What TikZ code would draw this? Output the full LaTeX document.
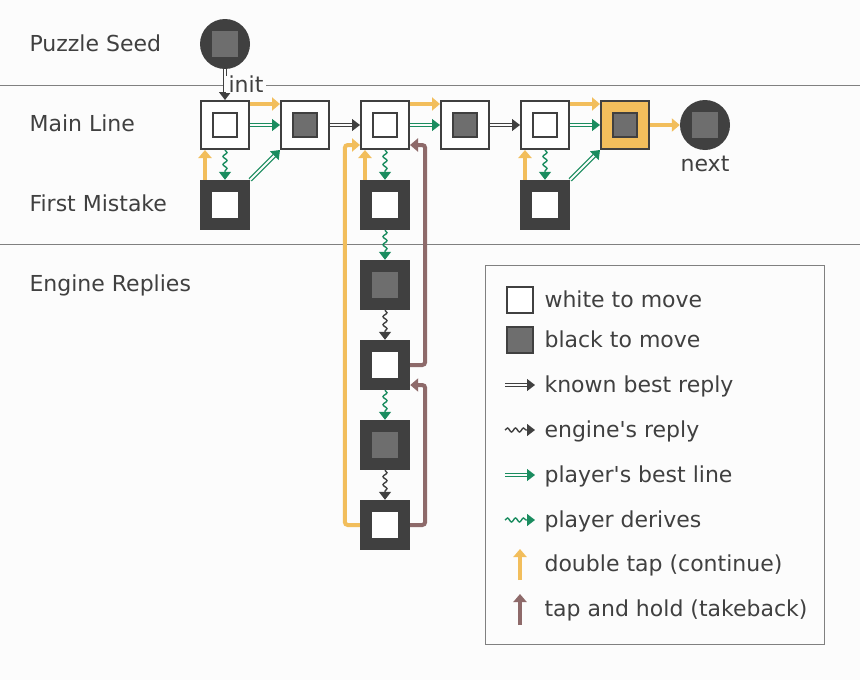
\documentclass[tikz,border=0pt]{standalone}
\usepackage{fontspec}
\setmainfont{DejaVu Sans}[Ligatures=TeXOff]
\usepackage{xcolor}
\usepackage{tikz}
\usetikzlibrary{arrows.meta,positioning,decorations.pathmorphing}

\definecolor{ink}{HTML}{404040}
\definecolor{piece}{HTML}{6E6E6E}
\definecolor{tapgold}{HTML}{F2BE5C}
\definecolor{lineg}{HTML}{1A8C5F}
\definecolor{holdbrown}{HTML}{8E6A6A}
\definecolor{rulegray}{HTML}{808080}
\definecolor{paper}{HTML}{FCFCFC}

\begin{document}
\begin{tikzpicture}[x=1pt,y=-1pt,>={Triangle[length=8pt,width=12pt]},node distance=80pt,on grid,
  every node/.style={font=\fontsize{22}{26}\selectfont,text=ink}]
\tikzset{wmove/.style={rectangle,minimum size=48pt,inner sep=0pt,line width=2pt,draw=ink,fill=white,
    path picture={\draw[ink,line width=2pt,fill=white] ([shift={(-12pt,-12pt)}]path picture bounding box.center) rectangle ++(24pt,24pt);}}}
\tikzset{bmove/.style={rectangle,minimum size=48pt,inner sep=0pt,line width=2pt,draw=ink,fill=white,
    path picture={\draw[ink,line width=2pt,fill=piece] ([shift={(-12pt,-12pt)}]path picture bounding box.center) rectangle ++(24pt,24pt);}}}
\tikzset{wdark/.style={rectangle,minimum size=50pt,inner sep=0pt,fill=ink,
    path picture={\fill[white] ([shift={(-13pt,-13pt)}]path picture bounding box.center) rectangle ++(26pt,26pt);}}}
\tikzset{bdark/.style={rectangle,minimum size=50pt,inner sep=0pt,fill=ink,
    path picture={\fill[piece] ([shift={(-13pt,-13pt)}]path picture bounding box.center) rectangle ++(26pt,26pt);}}}
\tikzset{seedpos/.style={circle,minimum size=50pt,inner sep=0pt,fill=ink,
    path picture={\fill[piece] ([shift={(-13pt,-13pt)}]path picture bounding box.center) rectangle ++(26pt,26pt);}}}
\tikzset{keysq/.style={rectangle,minimum size=26pt,inner sep=0pt,line width=2pt,draw=ink}}
\tikzset{bestreply/.style={->,draw=ink,double=paper,double distance=2pt,line width=1.2pt}}
\tikzset{playerline/.style={->,draw=lineg,double=paper,double distance=2pt,line width=1.2pt}}
\tikzset{enginereply/.style={->,draw=ink,line width=1.4pt,decorate,
    decoration={snake,amplitude=2pt,segment length=8pt,post length=8pt}}}
\tikzset{derives/.style={->,draw=lineg,line width=1.4pt,decorate,
    decoration={snake,amplitude=2pt,segment length=8pt,post length=8pt}}}
\tikzset{dbltap/.style={-{Triangle[length=8pt,width=13pt]},draw=tapgold,line width=4pt,rounded corners=3pt}}
\tikzset{tapheld/.style={-{Triangle[length=8pt,width=13pt]},draw=holdbrown,line width=4pt,rounded corners=3pt}}

\fill[paper] (0,0) rectangle (860,680);
\useasboundingbox (0,0) rectangle (860,680);
\draw[rulegray] (0,85) -- (860,85);
\draw[rulegray] (0,244) -- (860,244);

% rows
\node[anchor=base west] (rowseed)    at (26,51)  {Puzzle Seed};
\node[anchor=base west] (rowmain)    at (26,131) {Main Line};
\node[anchor=base west] (rowmistake) at (26,211) {First Mistake};
\node[anchor=base west] (rowengine)  at (26,291) {Engine Replies};

% positions
\node[seedpos]          (seed) at (225,44)  {};
\node[wmove]            (m1)   at (225,125) {};
\node[bmove]            (m2)   [right=of m1] {};
\node[wmove]            (m3)   [right=of m2] {};
\node[bmove]            (m4)   [right=of m3] {};
\node[wmove]            (m5)   [right=of m4] {};
\node[bmove,fill=tapgold] (m6) [right=of m5] {};
\node[seedpos]          (next) [right=of m6] {};
\node[anchor=base]      (nextlabel) at (705,171) {next};
\node[wdark]            (f1)   [below=of m1] {};
\node[wdark]            (f2)   [below=of m3] {};
\node[wdark]            (f3)   [below=of m5] {};
\node[bdark]            (e1)   [below=of f2] {};
\node[wdark]            (e2)   [below=of e1] {};
\node[bdark]            (e3)   [below=of e2] {};
\node[wdark]            (e4)   [below=of e3] {};

% main line
\draw[bestreply] (seed) -- (m1) node[midway,right,fill=paper,inner ysep=0pt,inner xsep=3pt] {init};
\draw[dbltap] ([yshift=21pt]m1.east) -- ([yshift=21pt]m2.west);
\draw[playerline] (m1) -- (m2);
\draw[bestreply] (m2) -- (m3);
\draw[dbltap] ([yshift=21pt]m3.east) -- ([yshift=21pt]m4.west);
\draw[playerline] (m3) -- (m4);
\draw[bestreply] (m4) -- (m5);
\draw[dbltap] ([yshift=21pt]m5.east) -- ([yshift=21pt]m6.west);
\draw[playerline] (m5) -- (m6);
\draw[dbltap] (m6) -- (next);

% mistakes
\draw[derives] (m1) -- (f1);
\draw[dbltap] ([xshift=-20pt]f1.north) -- ([xshift=-20pt]m1.south);
\draw[playerline] (f1.north east) -- (m2.south west);
\draw[derives] (m3) -- (f2);
\draw[dbltap] ([xshift=-20pt]f2.north) -- ([xshift=-20pt]m3.south);
\draw[derives] (m5) -- (f3);
\draw[dbltap] ([xshift=-20pt]f3.north) -- ([xshift=-20pt]m5.south);
\draw[playerline] (f3.north east) -- (m6.south west);

% engine replies
\draw[derives] (f2) -- (e1);
\draw[enginereply] (e1) -- (e2);
\draw[derives] (e2) -- (e3);
\draw[enginereply] (e3) -- (e4);
\draw[dbltap] (e4.west) -- ++(-15,0) |- ([yshift=-20pt]m3.west);
\draw[tapheld] (e2.east) -- ++(15,0) |- ([yshift=-20pt]m3.east);
\draw[tapheld] (e4.east) -- ++(15,0) |- ([yshift=-20pt]e2.east);

% legend
\draw[rulegray,line width=1pt] (485,265) rectangle (824,644);
\node[keysq,fill=white] (keyw) at (520,300) {};
\node[keysq,fill=piece] (keyb) at (520,340) {};
\coordinate (kb0) at (505,385); \coordinate (kb1) at (535,385);
\coordinate (ke0) at (505,430); \coordinate (ke1) at (535,430);
\coordinate (kp0) at (505,475); \coordinate (kp1) at (535,475);
\coordinate (kd0) at (505,520); \coordinate (kd1) at (535,520);
\coordinate (kt0) at (520,580); \coordinate (kt1) at (520,549);
\coordinate (kh0) at (520,625); \coordinate (kh1) at (520,594);
\draw[bestreply] (kb0) -- (kb1);
\draw[enginereply] (ke0) -- (ke1);
\draw[playerline] (kp0) -- (kp1);
\draw[derives] (kd0) -- (kd1);
\draw[dbltap] (kt0) -- (kt1);
\draw[tapheld] (kh0) -- (kh1);
\node[anchor=base west] (txtw) at (541,307) {white to move};
\node[anchor=base west] (txtb) at (541,347) {black to move};
\node[anchor=base west] (txtk) at (541,392) {known best reply};
\node[anchor=base west] (txte) at (541,437) {engine's reply};
\node[anchor=base west] (txtp) at (541,482) {player's best line};
\node[anchor=base west] (txtd) at (541,527) {player derives};
\node[anchor=base west] (txtt) at (541,571) {double tap (continue)};
\node[anchor=base west] (txth) at (541,616) {tap and hold (takeback)};
\end{tikzpicture}
\end{document}
